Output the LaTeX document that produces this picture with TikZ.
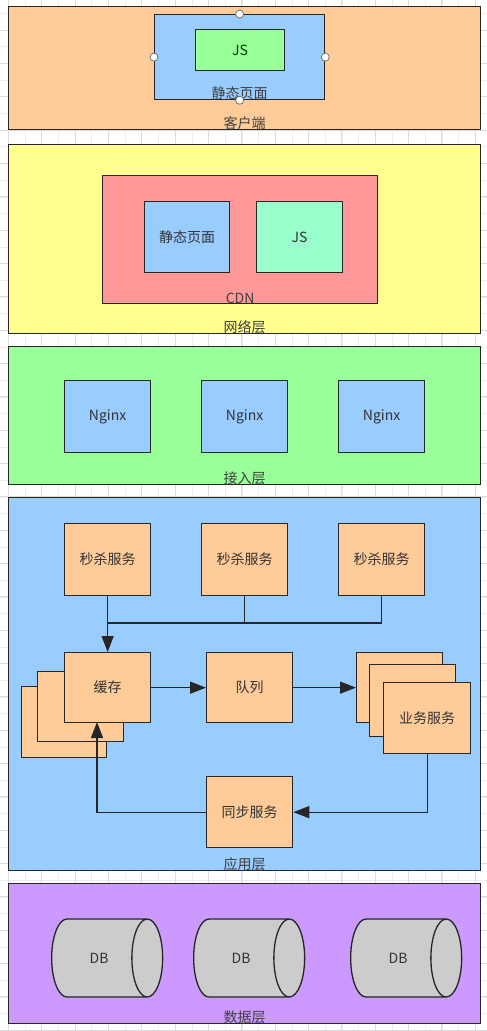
\documentclass[tikz,border=0pt]{standalone}
\usepackage{fontspec}
\setmainfont{Noto Sans CJK SC}
\usetikzlibrary{arrows.meta}
\usetikzlibrary{shapes.geometric}

\definecolor{peach}{HTML}{FFCC99}
\definecolor{skyblue}{HTML}{99CCFF}
\definecolor{lightgreen}{HTML}{99FF99}
\definecolor{paleyellow}{HTML}{FFFF8F}
\definecolor{salmon}{HTML}{FF9999}
\definecolor{mint}{HTML}{99FFCC}
\definecolor{lilac}{HTML}{CC99FF}
\definecolor{dbgray}{HTML}{CCCCCC}

\begin{document}
\begin{tikzpicture}[x=1pt,y=-1pt,
	box/.style={draw=black!85, line width=1.3pt, inner sep=0pt, anchor=north west,
		font=\fontsize{14}{16}\selectfont, text=black!80},
	lbl/.style={inner sep=0pt, font=\fontsize{14}{16}\selectfont, text=black!75},
	handle/.style={circle, draw=black!55, fill=white, line width=0.8pt, inner sep=0pt, minimum size=8pt},
	arr/.style={draw=black!85, line width=1.3pt, -{Triangle[length=16pt,width=12pt]}},
	link/.style={draw=black!85, line width=1.3pt},
	gridmajor/.style={draw=black!14, line width=0.5pt},
	gridminor/.style={draw=black!7, line width=0.4pt}]
		\useasboundingbox (0,0) rectangle (487,1031);
		\fill[white] (0,0) rectangle (487,1031);
		
		% background grid
		\foreach \i in {0,...,29}
		\draw[gridminor] ({8.33+16.67*\i},0) -- ++(0,1031);
		\foreach \i in {0,...,62}
		\draw[gridminor] (0,{13.33+16.67*\i}) -- ++(487,0);
		\foreach \i in {0,...,14}
		\draw[gridmajor] ({8.33+33.33*\i},0) -- ++(0,1031);
		\foreach \i in {0,...,30}
		\draw[gridmajor] (0,{30+33.33*\i}) -- ++(487,0);
		
		% client layer
		\node[box, fill=peach, minimum width=472, minimum height=123] (client) at (8,6) {};
		\node[lbl, above=0pt] at (client.south) {客户端};
		\node[box, fill=skyblue, minimum width=170, minimum height=85] (page) at (154,14) {};
		\node[lbl, above=0pt] at (page.south) {静态页面};
		\node[box, fill=lightgreen, minimum width=89, minimum height=41, text=black!65!green!60!black] (js) at (195,29) {JS};
		\foreach \a in {north,west,east,south}
		\node[handle] at (page.\a) {};
		
		% network layer
		\node[box, fill=paleyellow, minimum width=472, minimum height=189] (net) at (8,144) {};
		\node[lbl, above=0pt] at (net.south) {网络层};
		\node[box, fill=salmon, minimum width=275, minimum height=128] (cdn) at (102,175) {};
		\node[lbl, above=0pt] at (cdn.south) {CDN};
		\node[box, fill=skyblue, minimum width=85, minimum height=71] (cdnpage) at (144,201) {静态页面};
		\node[box, fill=mint, minimum width=86, minimum height=71] (cdnjs) at (256,201) {JS};
		
		% access layer
		\node[box, fill=lightgreen, minimum width=472, minimum height=138] (access) at (8,346) {};
		\node[lbl, above=0pt] at (access.south) {接入层};
		\foreach \x [count=\n] in {64,201,338}
		\node[box, fill=skyblue, minimum width=86, minimum height=72] (nginx\n) at (\x,380) {Nginx};
		
		% application layer
		\node[box, fill=skyblue, minimum width=472, minimum height=373] (app) at (8,497) {};
		\node[lbl, above=0pt] at (app.south) {应用层};
		\foreach \x [count=\n] in {64,201,338}
		\node[box, fill=peach, minimum width=86, minimum height=72] (seckill\n) at (\x,523) {秒杀服务};
		
		\node[box, fill=peach, minimum width=85, minimum height=71] (cacheC) at (21,686) {};
		\node[box, fill=peach, minimum width=86, minimum height=70] (cacheB) at (37,671) {};
		\node[box, fill=peach, minimum width=86, minimum height=70] (cache) at (64,652) {缓存};
		\node[box, fill=peach, minimum width=86, minimum height=70] (queue) at (206,652) {队列};
		\node[box, fill=peach, minimum width=86, minimum height=70] (bizC) at (356,652) {};
		\node[box, fill=peach, minimum width=86, minimum height=72] (bizB) at (369,664) {};
		\node[box, fill=peach, minimum width=87, minimum height=71] (biz) at (383,682) {业务服务};
		\node[box, fill=peach, minimum width=86, minimum height=71] (sync) at (206,776) {同步服务};
		
		\coordinate (merge) at (107,623);
		\coordinate (cacheIn) at (97,722);
		\draw[link] (seckill3.south) |- (merge);
		\draw[link] (seckill2.south) |- (merge);
		\draw[arr] (seckill1.south) -- (cache.north);
		\draw[arr] (cache.east) -- (queue.west);
		\draw[arr] (queue.east) -- (bizC.west);
		\draw[arr] (biz.south) |- (sync.east);
		\draw[arr] (sync.west) -| (cacheIn);
		
		% data layer
		\node[box, fill=lilac, minimum width=472, minimum height=140] (data) at (8,883) {};
		\node[lbl, above=0pt] at (data.south) {数据层};
		\foreach \x [count=\n] in {51,193,350}
		\node[box, cylinder, anchor=west, fill=dbgray, shape aspect=3,
			minimum height=111, minimum width=78] (db\n) at (\x,958) {DB};
		
		\end{tikzpicture}
\end{document}
